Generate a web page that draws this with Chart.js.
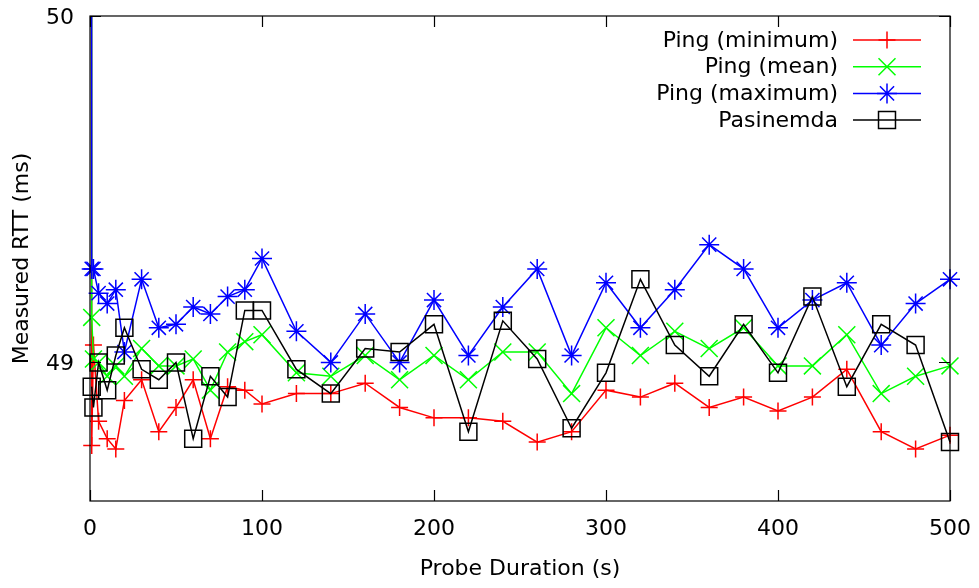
<!DOCTYPE html>
<html>
<head>
<meta charset="utf-8">
<script src="https://cdn.jsdelivr.net/npm/chart.js@4/dist/chart.umd.min.js"></script>
<style>
  html, body { margin: 0; padding: 0; background: #fff; }
  #wrap { width: 979px; height: 588px; }
</style>
</head>
<body>
<div id="wrap"><canvas id="rttChart" width="979" height="588"></canvas></div>
<script>
// probe durations (s); first ping sample at 0 s is far above the plotted range
const probeDurations = [0, 1, 2, 5, 10, 15, 20,
  30, 40, 50, 60, 70, 80, 90, 100,
  120, 140, 160, 180, 200, 220, 240, 260, 280, 300,
  320, 340, 360, 380, 400, 420, 440, 460, 480, 500];

const pingMin = [60, 48.76, 49.05, 48.83, 48.78, 48.75, 48.89,
  48.95, 48.80, 48.87, 48.95, 48.78, 48.93, 48.92, 48.88,
  48.91, 48.91, 48.94, 48.87, 48.84, 48.84, 48.83, 48.77, 48.80, 48.92,
  48.90, 48.94, 48.87, 48.90, 48.86, 48.90, 48.98, 48.80, 48.75, 48.79];

const pingMean = [60, 49.13, 49.01, 49.00, 48.96, 48.99, 48.96,
  49.04, 48.99, 48.99, 49.01, 48.92, 49.03, 49.06, 49.08,
  48.97, 48.96, 49.02, 48.95, 49.02, 48.95, 49.03, 49.03, 48.91, 49.10,
  49.02, 49.09, 49.04, 49.10, 48.99, 48.99, 49.08, 48.91, 48.96, 48.99];

const pingMax = [60, 49.27, 49.27, 49.20, 49.17, 49.21, 49.03,
  49.24, 49.10, 49.11, 49.16, 49.14, 49.19, 49.21, 49.30,
  49.09, 49.00, 49.14, 49.00, 49.18, 49.02, 49.16, 49.27, 49.02, 49.23,
  49.10, 49.21, 49.34, 49.27, 49.10, 49.18, 49.23, 49.05, 49.17, 49.24];

const pasinemda = [null, 48.93, 48.87, 49.00, 48.92, 49.02, 49.10,
  48.98, 48.95, 49.00, 48.78, 48.96, 48.90, 49.15, 49.15,
  48.98, 48.91, 49.04, 49.03, 49.11, 48.80, 49.12, 49.01, 48.81, 48.97,
  49.24, 49.05, 48.96, 49.11, 48.97, 49.19, 48.93, 49.11, 49.05, 48.77];

const xTicks = [0, 100, 200, 300, 400, 500];
const yTicks = [49, 50];

const FONT = { family: "'DejaVu Sans', sans-serif", size: 22 };

function toPoints(values) {
  return probeDurations.map((x, i) => ({ x: x, y: values[i] }));
}

function makeSeries(label, values, color, style, radius, order) {
  return {
    label: label,
    data: toPoints(values),
    borderColor: color,
    backgroundColor: "transparent",
    borderWidth: 1.5,
    pointStyle: style,
    pointRadius: radius,
    pointBorderWidth: 1.5,
    pointBorderColor: color,
    pointBackgroundColor: "transparent",
    tension: 0,
    fill: false,
    order: order,
    clip: { left: 14, top: 0, right: 14, bottom: 14 },
  };
}

const datasets = [
  makeSeries("Ping (minimum)", pingMin, "#ff0000", "cross", 8.5, 3),
  makeSeries("Ping (mean)", pingMean, "#00ff00", "crossRot", 12, 2),
  makeSeries("Ping (maximum)", pingMax, "#0000ff", "star", 10, 1),
  makeSeries("Pasinemda", pasinemda, "#000000", "rect", 12, 0),
];

// gnuplot-like frame with inward ticks on all four sides
const framePlugin = {
  id: "frame",
  afterDatasetsDraw(chart) {
    const { ctx, chartArea: a, scales } = chart;
    const tick = 11;
    ctx.save();
    ctx.strokeStyle = "#000";
    ctx.lineWidth = 1.2;
    ctx.beginPath();
    xTicks.forEach((v) => {
      const px = Math.round(scales.x.getPixelForValue(v)) + 0.5;
      ctx.moveTo(px, a.bottom);
      ctx.lineTo(px, a.bottom - tick);
      ctx.moveTo(px, a.top);
      ctx.lineTo(px, a.top + tick);
    });
    yTicks.forEach((v) => {
      const py = Math.round(scales.y.getPixelForValue(v)) + 0.5;
      ctx.moveTo(a.left, py);
      ctx.lineTo(a.left + tick, py);
      ctx.moveTo(a.right, py);
      ctx.lineTo(a.right - tick, py);
    });
    ctx.stroke();
    ctx.strokeRect(a.left, a.top, a.right - a.left, a.bottom - a.top);
    ctx.restore();
  },
};

// key in the top right corner: text right aligned, sample line on the right
const keyPlugin = {
  id: "key",
  afterDraw(chart) {
    const { ctx } = chart;
    const textRight = 838;
    const lineLeft = 853;
    const lineRight = 921;
    const rowTop = 40;
    const rowStep = 26.7;
    ctx.save();
    ctx.font = FONT.size + "px " + FONT.family;
    ctx.textAlign = "right";
    ctx.textBaseline = "middle";
    chart.data.datasets.forEach((ds, i) => {
      const y = rowTop + i * rowStep;
      ctx.fillStyle = "#000";
      ctx.fillText(ds.label, textRight, y + 1);
      ctx.strokeStyle = ds.borderColor;
      ctx.lineWidth = ds.borderWidth;
      ctx.beginPath();
      ctx.moveTo(lineLeft, y);
      ctx.lineTo(lineRight, y);
      ctx.stroke();
      ctx.fillStyle = "transparent";
      ctx.lineWidth = ds.pointBorderWidth;
      Chart.helpers.drawPoint(ctx, {
        pointStyle: ds.pointStyle,
        radius: ds.pointRadius,
        rotation: 0,
        borderWidth: ds.pointBorderWidth,
      }, (lineLeft + lineRight) / 2, y);
    });
    ctx.restore();
  },
};

new Chart(document.getElementById("rttChart"), {
  type: "line",
  data: { datasets: datasets },
  options: {
    responsive: false,
    animation: false,
    devicePixelRatio: 1,
    layout: { padding: { top: 16, right: 29, left: 0, bottom: 0 } },
    plugins: {
      legend: { display: false },
      tooltip: { enabled: false },
    },
    scales: {
      x: {
        type: "linear",
        min: 0,
        max: 500,
        afterBuildTicks: (s) => { s.ticks = xTicks.map((v) => ({ value: v })); },
        afterFit: (s) => { s.height = 87; s.paddingLeft = 0; s.paddingRight = 0; },
        grid: { display: false, drawTicks: false },
        border: { display: false },
        ticks: { font: FONT, color: "#000", padding: 15, maxRotation: 0, autoSkip: false },
        title: {
          display: true,
          text: "Probe Duration (s)",
          font: FONT,
          color: "#000",
          padding: { top: 0, bottom: 6 },
        },
      },
      y: {
        type: "linear",
        min: 48.6,
        max: 50,
        afterBuildTicks: (s) => { s.ticks = yTicks.map((v) => ({ value: v })); },
        afterFit: (s) => { s.width = 90; s.paddingTop = 0; s.paddingBottom = 0; },
        grid: { display: false, drawTicks: false },
        border: { display: false },
        ticks: { font: FONT, color: "#000", padding: 16, labelOffset: 2 },
        title: {
          display: true,
          text: "Measured RTT (ms)",
          font: FONT,
          color: "#000",
          padding: { top: 9, bottom: 0 },
        },
      },
    },
  },
  plugins: [framePlugin, keyPlugin],
});
</script>
</body>
</html>
